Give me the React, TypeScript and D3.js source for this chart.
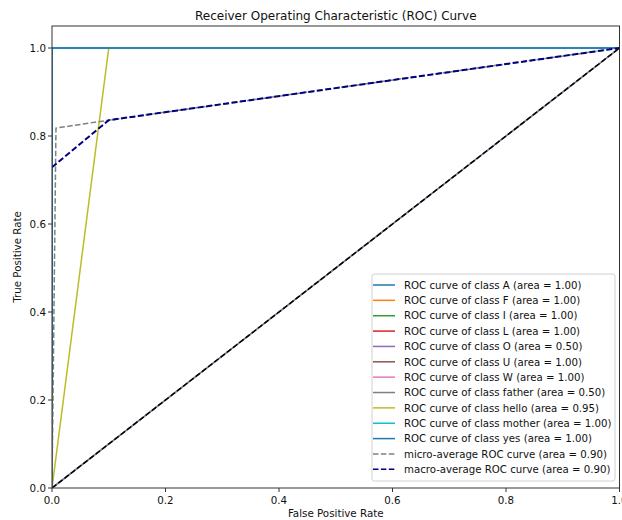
import React from "react";
import * as d3 from "d3";

type Pt = [number, number];

const classNames = ["A", "F", "I", "L", "O", "U", "W", "father", "hello", "mother", "yes"];
const classAreas = ["1.00", "1.00", "1.00", "1.00", "0.50", "1.00", "1.00", "0.50", "0.95", "1.00", "1.00"];
const classColors = ["#1f77b4", "#ff7f0e", "#2ca02c", "#d62728", "#9467bd", "#8c564b", "#e377c2", "#7f7f7f", "#bcbd22", "#17becf", "#1f77b4"];

const perfectFpr = [0, 0, 1];
const perfectTpr = [0, 1, 1];
const chanceFpr = [0, 1];
const chanceTpr = [0, 1];
const helloFpr = [0, 0.1, 1];
const helloTpr = [0, 1, 1];

const classFpr = [perfectFpr, perfectFpr, perfectFpr, perfectFpr, chanceFpr, perfectFpr, perfectFpr, chanceFpr, helloFpr, perfectFpr, perfectFpr];
const classTpr = [perfectTpr, perfectTpr, perfectTpr, perfectTpr, chanceTpr, perfectTpr, perfectTpr, chanceTpr, helloTpr, perfectTpr, perfectTpr];

const microFpr = [0, 0.007, 0.1, 1];
const microTpr = [0, 0.818, 0.836, 1];
const microArea = "0.90";
const macroFpr = [0, 0.1, 1];
const macroTpr = [0.729, 0.836, 1];
const macroArea = "0.90";

const xTicks = [0, 0.2, 0.4, 0.6, 0.8, 1.0];
const yTicks = [0, 0.2, 0.4, 0.6, 0.8, 1.0];

const W = 622, H = 520;
const L = 52, R = 619.5, T = 26, B = 488;
const FONT = "DejaVu Sans, sans-serif";

export default function App() {
  const x = d3.scaleLinear().domain([0, 1]).range([L, R]);
  const y = d3.scaleLinear().domain([0, 1.05]).range([B, T]);
  const line = d3.line<Pt>().x(d => x(d[0])).y(d => y(d[1]));
  const toPts = (xs: number[], ys: number[]): Pt[] => xs.map((v, i) => [v, ys[i]]);

  const legendItems = [
    ...classNames.map((c, i) => ({ label: `ROC curve of class ${c} (area = ${classAreas[i]})`, color: classColors[i], dash: "", w: 1.5 })),
    { label: `micro-average ROC curve (area = ${microArea})`, color: "#7f7f7f", dash: "5.5,2.4", w: 1.5 },
    { label: `macro-average ROC curve (area = ${macroArea})`, color: "navy", dash: "5.5,2.4", w: 1.5 },
  ];
  const legX = 372, legY = 274, legW = 243, legH = 207;
  const rowH = 15.36;

  return (
    <svg width={W} height={H} style={{ position: "fixed", left: 0, top: 0, background: "#fff" }} fontFamily={FONT}>
      <defs>
        <clipPath id="plotclip">
          <rect x={L} y={T} width={R - L} height={B - T} />
        </clipPath>
      </defs>
      <rect x={0} y={0} width={W} height={H} fill="#fff" />
      <text x={(L + R) / 2} y={20} textAnchor="middle" fontSize={12} fill="#111">
        Receiver Operating Characteristic (ROC) Curve
      </text>
      <g clipPath="url(#plotclip)">
        {classNames.map((c, i) => (
          <path key={c} d={line(toPts(classFpr[i], classTpr[i])) || ""} fill="none" stroke={classColors[i]} strokeWidth={1.5} />
        ))}
        <path d={line(toPts(microFpr, microTpr)) || ""} fill="none" stroke="#7f7f7f" strokeWidth={1.5} strokeDasharray="5.5,2.4" />
        <path d={line(toPts(macroFpr, macroTpr)) || ""} fill="none" stroke="navy" strokeWidth={2} strokeDasharray="6,2.6" />
        <path d={line(toPts(chanceFpr, chanceTpr)) || ""} fill="none" stroke="#000" strokeWidth={1.5} strokeDasharray="5.5,2.4" />
      </g>
      <rect x={L} y={T} width={R - L} height={B - T} fill="none" stroke="#333" strokeWidth={1} />
      {xTicks.map(t => (
        <g key={"x" + t}>
          <line x1={x(t)} x2={x(t)} y1={B} y2={B + 4} stroke="#333" />
          <text x={x(t)} y={B + 16} textAnchor="middle" fontSize={10.3} fill="#111">{t.toFixed(1)}</text>
        </g>
      ))}
      {yTicks.map(t => (
        <g key={"y" + t}>
          <line x1={L - 4} x2={L} y1={y(t)} y2={y(t)} stroke="#333" />
          <text x={L - 6} y={y(t) + 3.6} textAnchor="end" fontSize={10.3} fill="#111">{t.toFixed(1)}</text>
        </g>
      ))}
      <text x={(L + R) / 2} y={517} textAnchor="middle" fontSize={10.3} fill="#111">False Positive Rate</text>
      <text transform={`translate(21,${(T + B) / 2}) rotate(-90)`} textAnchor="middle" fontSize={10.3} fill="#111">True Positive Rate</text>
      <rect x={legX} y={legY} width={legW} height={legH} rx={2.5} fill="#fff" fillOpacity={0.8} stroke="#d0d0d0" strokeWidth={1} />
      {legendItems.map((it, i) => {
        const cy = 285 + i * rowH;
        return (
          <g key={"leg" + i}>
            <line x1={373} x2={395} y1={cy} y2={cy} stroke={it.color} strokeWidth={it.w} strokeDasharray={it.dash || undefined} />
            <text x={404} y={cy + 3.7} fontSize={10.2} fill="#111">{it.label}</text>
          </g>
        );
      })}
    </svg>
  );
}
